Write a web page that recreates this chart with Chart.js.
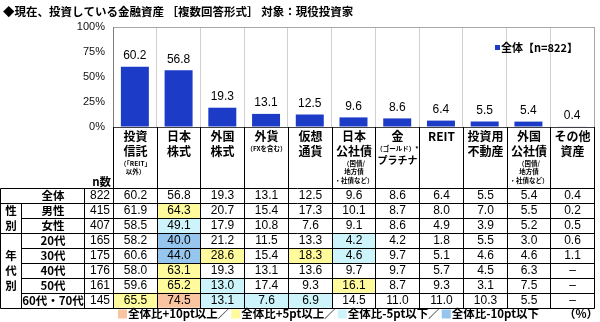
<!DOCTYPE html>
<html>
<head>
<meta charset="utf-8">
<script src="https://cdn.jsdelivr.net/npm/chart.js@4.4.1/dist/chart.umd.min.js"></script>
<style>
  html, body { margin: 0; padding: 0; background: #fff; }
  #wrap { width: 600px; height: 322px; }
</style>
</head>
<body>
<div id="wrap"><canvas id="c" width="600" height="322"></canvas></div>
<script>
// ---- data ----
const title = '◆現在、投資している金融資産 ［複数回答形式］ 対象：現役投資家';
const seriesLabel = '全体【n=822】';
const categories = ['投資信託', '日本株式', '外国株式', '外貨', '仮想通貨', '日本公社債', '金・プラチナ', 'REIT', '投資用不動産', '外国公社債', 'その他資産'];
// header cell lines: [text, kind] where kind 'm' = main label, 'c' = condensed main label, 'n' = note
const headerLines = [
  [['投資', 'm'], ['信託', 'm'], ['（「REIT」', 'n'], ['以外）', 'n']],
  [['日本', 'm'], ['株式', 'm']],
  [['外国', 'm'], ['株式', 'm']],
  [['外貨', 'm'], ['（FXを含む）', 'n']],
  [['仮想', 'm'], ['通貨', 'm']],
  [['日本', 'm'], ['公社債', 'm'], ['（国債/', 'n'], ['地方債', 'n'], ['・社債など）', 'n']],
  [['金', 'm'], ['（ゴールド）*', 'n'], ['プラチナ', 'c']],
  [['REIT', 'm']],
  [['投資用', 'm'], ['不動産', 'm']],
  [['外国', 'm'], ['公社債', 'm'], ['（国債/', 'n'], ['地方債', 'n'], ['・社債など）', 'n']],
  [['その他', 'm'], ['資産', 'm']]
];
const yTicks = [0, 25, 50, 75, 100];

const overall = [60.2, 56.8, 19.3, 13.1, 12.5, 9.6, 8.6, 6.4, 5.5, 5.4, 0.4];
const male    = [61.9, 64.3, 20.7, 15.4, 17.3, 10.1, 8.7, 8.0, 7.0, 5.5, 0.2];
const female  = [58.5, 49.1, 17.9, 10.8, 7.6, 9.1, 8.6, 4.9, 3.9, 5.2, 0.5];
const age20s  = [58.2, 40.0, 21.2, 11.5, 13.3, 4.2, 4.2, 1.8, 5.5, 3.0, 0.6];
const age30s  = [60.6, 44.0, 28.6, 15.4, 18.3, 4.6, 9.7, 5.1, 4.6, 4.6, 1.1];
const age40s  = [58.0, 63.1, 19.3, 13.1, 13.6, 9.7, 9.7, 5.7, 4.5, 6.3, null];
const age50s  = [59.6, 65.2, 13.0, 17.4, 9.3, 16.1, 8.7, 9.3, 3.1, 7.5, null];
const age60s70s = [65.5, 74.5, 13.1, 7.6, 6.9, 14.5, 11.0, 11.0, 10.3, 5.5, null];

const rowLabels = ['全体', '男性', '女性', '20代', '30代', '40代', '50代', '60代・70代'];
const rowGroups = ['', '性別', '性別', '年代別', '年代別', '年代別', '年代別', '年代別'];
const rowN = [822, 415, 407, 165, 175, 176, 161, 145];
const rowValues = [overall, male, female, age20s, age30s, age40s, age50s, age60s70s];

const legendItems = ['全体比+10pt以上／', '全体比+5pt以上／', '全体比-5pt以下／', '全体比-10pt以下'];
const unitLabel = '（%）';

// ---- styles ----
const BAR = '#1c3cc8';
const FILLS = ['#f9c49f', '#fffb9c', '#cdf3fb', '#96c6ee'];
const INK = '#000';
const JP = '"Noto Sans CJK JP", sans-serif';
const LAT = '"Liberation Sans", Arial, "Noto Sans CJK JP", sans-serif';
const HEADER_FONTS = { m: 'bold 12px ' + JP, c: 'bold 10px ' + JP, n: 'bold 6.5px ' + JP };
const HEADER_LINE = { m: 15, c: 15, n: 8.5 };

// which band a cell falls into, compared with the overall row (in tenths of a point)
function band(v, base) {
  if (v == null) return -1;
  const d = Math.round((v - base) * 10);
  if (d >= 100) return 0;
  if (d >= 50) return 1;
  if (d <= -100) return 3;
  if (d <= -50) return 2;
  return -1;
}

const px = v => Math.round(v) + 0.5;

const tablePlugin = {
  id: 'tablePlugin',
  afterDatasetsDraw(chart) {
    const ctx = chart.ctx;
    const meta = chart.getDatasetMeta(0);
    ctx.save();
    ctx.fillStyle = INK;
    ctx.font = '12px ' + LAT;
    ctx.textAlign = 'center';
    ctx.textBaseline = 'middle';
    meta.data.forEach((bar, i) => {
      ctx.fillText(overall[i].toFixed(1), bar.x, bar.y - 11);
    });
    ctx.restore();
  },
  afterDraw(chart) {
    const ctx = chart.ctx;
    const area = chart.chartArea;
    const x = chart.scales.x;
    const n = categories.length;
    const step = x.getPixelForValue(1) - x.getPixelForValue(0);
    const edges = [];
    for (let i = 0; i <= n; i++) edges.push(px(x.getPixelForValue(0) - step / 2 + i * step));
    const right = edges[n];
    const tableTop = px(area.bottom + 61);
    const rowH = 14.9;
    const rowTop = r => tableTop + r * rowH;
    const bottom = px(rowTop(rowLabels.length));
    const groupX = 21.5, labelX = 84.5, leftX = 0.5;

    ctx.save();
    ctx.textBaseline = 'middle';

    // title
    ctx.fillStyle = INK;
    ctx.textAlign = 'left';
    ctx.font = 'bold 11.5px ' + JP;
    ctx.fillText(title, 3, 12);

    // series key inside the plot
    const ds = chart.data.datasets[0];
    ctx.fillStyle = ds.backgroundColor;
    ctx.fillRect(495, 45, 5, 5);
    ctx.fillStyle = INK;
    ctx.font = 'bold 11px ' + JP;
    ctx.fillText(ds.label, 501, 47.5);

    // highlighted cells
    for (let r = 1; r < rowValues.length; r++) {
      rowValues[r].forEach((v, c) => {
        const b = band(v, overall[c]);
        if (b < 0) return;
        ctx.fillStyle = FILLS[b];
        ctx.fillRect(edges[c], rowTop(r), edges[c + 1] - edges[c], rowH);
      });
    }

    // grid of the header and table
    ctx.strokeStyle = '#000';
    ctx.lineWidth = 1;
    ctx.beginPath();
    edges.forEach(e => { ctx.moveTo(e, area.bottom); ctx.lineTo(e, bottom); });
    ctx.moveTo(leftX, tableTop); ctx.lineTo(leftX, bottom);
    ctx.moveTo(labelX, tableTop); ctx.lineTo(labelX, bottom);
    ctx.moveTo(groupX, px(rowTop(1))); ctx.lineTo(groupX, bottom);
    ctx.moveTo(leftX, tableTop); ctx.lineTo(right, tableTop);
    for (let r = 0; r < rowLabels.length; r++) {
      const y = px(rowTop(r + 1));
      const inner = rowGroups[r] && rowGroups[r] === rowGroups[r + 1];
      ctx.moveTo(inner ? groupX : leftX, y);
      ctx.lineTo(right, y);
    }
    ctx.stroke();

    ctx.fillStyle = INK;

    // category headers
    ctx.textAlign = 'center';
    headerLines.forEach((lines, c) => {
      const cx = (edges[c] + edges[c + 1]) / 2;
      let y = area.bottom + 9.7;
      let prev = null;
      lines.forEach(([t, kind]) => {
        const h = HEADER_LINE[kind];
        if (prev) y += prev / 2 + h / 2;
        ctx.font = HEADER_FONTS[kind];
        ctx.fillText(t, cx, y);
        prev = h;
      });
    });

    // n header
    ctx.textAlign = 'right';
    ctx.font = 'bold 11.5px ' + JP;
    ctx.fillText('n数', 111, tableTop - 7);

    // rows
    rowLabels.forEach((label, r) => {
      const cy = rowTop(r) + rowH / 2;
      ctx.textAlign = 'center';
      ctx.font = 'bold 11.5px ' + JP;
      ctx.fillText(label, (groupX + labelX) / 2, cy);
      ctx.textAlign = 'right';
      ctx.font = '12px ' + LAT;
      ctx.fillText(String(rowN[r]), 110, cy);
      ctx.textAlign = 'center';
      rowValues[r].forEach((v, c) => {
        ctx.fillText(v == null ? '–' : v.toFixed(1), (edges[c] + edges[c + 1]) / 2, cy);
      });
    });

    // vertical group captions
    ctx.textAlign = 'center';
    ctx.font = 'bold 11.5px ' + JP;
    const seen = new Set();
    rowGroups.forEach((g, r) => {
      if (!g || seen.has(g)) return;
      seen.add(g);
      let last = r;
      while (rowGroups[last + 1] === g) last++;
      const mid = (rowTop(r) + rowTop(last + 1)) / 2;
      const chars = Array.from(g);
      chars.forEach((ch, k) => {
        ctx.fillText(ch, (leftX + groupX) / 2, mid + (k - (chars.length - 1) / 2) * rowH);
      });
    });

    // colour key under the table
    const ky = 314;
    let kx = 118;
    ctx.textAlign = 'left';
    ctx.font = 'bold 11.5px ' + JP;
    legendItems.forEach((t, i) => {
      ctx.fillStyle = FILLS[i];
      ctx.fillRect(kx, ky - 4.5, 9, 9);
      ctx.fillStyle = INK;
      ctx.fillText(t, kx + 10, ky);
      kx += 10 + ctx.measureText(t).width + 2;
    });
    ctx.textAlign = 'right';
    ctx.fillText(unitLabel, 598, ky);

    ctx.restore();
  }
};

new Chart(document.getElementById('c'), {
  type: 'bar',
  data: {
    labels: categories,
    datasets: [{
      label: seriesLabel,
      data: overall,
      backgroundColor: BAR,
      barPercentage: 0.64,
      categoryPercentage: 1
    }]
  },
  options: {
    responsive: false,
    animation: false,
    devicePixelRatio: 1,
    layout: { padding: { top: 27, right: 6, bottom: 195, left: 0 } },
    plugins: {
      legend: { display: false },
      tooltip: { enabled: false },
      title: { display: false }
    },
    scales: {
      x: {
        display: true,
        ticks: { display: false },
        grid: {
          offset: true,
          drawTicks: false,
          color: c => c.type !== 'tick' ? '#a8a8a8' : (c.index === 0 ? 'rgba(0,0,0,0)' : '#d0d0d0')
        },
        border: { display: true, color: '#404040' },
        afterFit: s => { s.height = 0; }
      },
      y: {
        min: 0,
        max: 100,
        afterBuildTicks: s => { s.ticks = yTicks.map(v => ({ value: v })); },
        ticks: {
          callback: v => v + '%',
          padding: 8,
          color: '#111',
          font: { family: LAT, size: 11 }
        },
        grid: {
          drawTicks: false,
          color: c => (c.tick && c.tick.value === 100) ? '#a8a8a8' : 'rgba(0,0,0,0)'
        },
        border: { display: true, color: '#808080' },
        afterFit: s => { s.width = 113; }
      }
    }
  },
  plugins: [tablePlugin]
});
</script>
</body>
</html>
